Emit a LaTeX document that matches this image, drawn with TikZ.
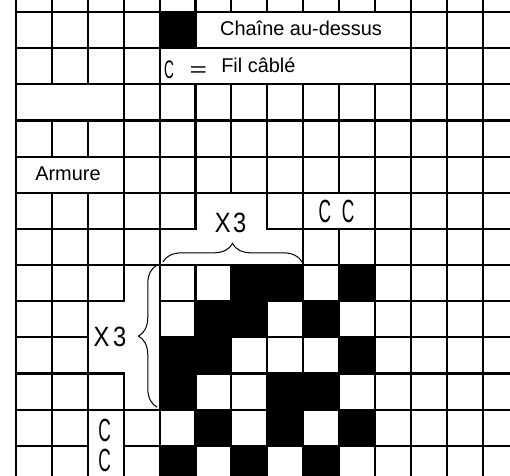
\documentclass[tikz,border=0pt]{standalone}
\usepackage{fontspec}
\setmainfont{Liberation Sans}
\usepackage{graphicx}
\usetikzlibrary{decorations.pathreplacing,positioning}
\tikzset{
  gridline/.style={line width=1.7pt, black},
  merged/.style={draw=black, line width=1.7pt, fill=white},
  txt/.style={font=\fontsize{15.8}{18}\selectfont, inner sep=0pt},
  stencil/.style={font=\fontsize{22.1}{24}\selectfont, inner sep=0pt},
  rep/.style={decorate, decoration={brace, amplitude=0.52cm}, line width=0.8pt},
}
\newcommand{\thinC}{\scalebox{0.62}[1.15]{C}}

\begin{document}
\begin{tikzpicture}[x=1cm, y=-1.007cm]
  \useasboundingbox (-0.446,-0.332) rectangle (13.76,12.81);
  \clip (-0.446,-0.332) rectangle (13.76,12.81);
  % grid
  \foreach \i in {0,...,14} \draw[gridline] (\i,-1) -- (\i,13.5);
  \foreach \j in {0,...,13} \draw[gridline] (0,\j) -- (14.5,\j);
  % black cells (col/row)
  \foreach \c/\r in {4/0, 6/7, 7/7, 9/7, 5/8, 6/8, 8/8, 4/9, 5/9, 9/9,
                     4/10, 7/10, 8/10, 5/11, 7/11, 9/11, 4/12, 6/12, 8/12}
    \fill (\c,\r) rectangle (\c+1,\r+1);
  % merged cells
  \draw[merged] (5,0) rectangle (11,1);
  \draw[merged] (4,1) rectangle (11,2);
  \draw[merged] (0,2) rectangle (3,3);
  \draw[merged] (0,4) rectangle (3,5);
  \draw[merged] (8,5) rectangle (10,6);
  \draw[merged] (2,11) rectangle (3,13);
  \draw[merged] (5,5) -- (7,5) -- (7,6) -- (8,6) -- (8,7) -- (4,7) -- (4,6) -- (5,6) -- cycle;
  \draw[merged] (3,7) -- (4,7) -- (4,11) -- (3,11) -- (3,10) -- (2,10) -- (2,8) -- (3,8) -- cycle;
  % legend
  \node[txt, anchor=base west] (chaine) at (5.68,0.66) {Chaîne au-dessus};
  \node[txt, anchor=base west] (fil) at (5.71,1.66) {Fil câblé};
  \node[stencil, font=\fontsize{17.5}{19}\selectfont] (legC) at (4.26,1.6) {\thinC};
  \node[txt] (egal) at (5.08,1.64) {\scalebox{1.5}[1]{=}};
  \node[txt, anchor=base west] (armure) at (0.53,4.65) {Armure};
  % repeats
  \node[stencil] (repH) at (5.975,5.84) {\scalebox{0.85}[1]{X\kern0.08cm 3}};
  \node[stencil] (repV) at (2.62,9.0) {\scalebox{0.85}[1]{X\kern0.12cm 3}};
  \coordinate (hA) at (4.09,6.92);
  \coordinate (hB) at (7.97,6.92);
  \coordinate (vA) at (3.93,10.93);
  \coordinate (vB) at (3.93,7.0);
  \draw[rep] (hA) -- (hB);
  \draw[rep] (vA) -- (vB);
  % cabled threads
  \node[stencil] (cc) at (8.93,5.53) {\thinC\kern0.3cm\thinC};
  \node[stencil] (c1) at (2.47,11.58) {\thinC};
  \node[stencil] (c2) at (2.47,12.4) {\thinC};
\end{tikzpicture}
\end{document}
